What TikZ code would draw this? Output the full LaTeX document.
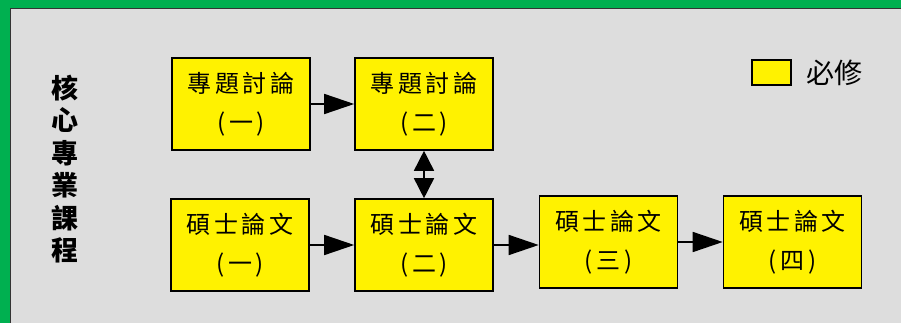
\documentclass[tikz,border=0pt]{standalone}
\usepackage{fontspec}
\newfontfamily\cjk{Noto Sans CJK TC}
\newfontfamily\cjkwide{Noto Sans CJK TC}[LetterSpace=15]
\usetikzlibrary{arrows.meta}
\begin{document}
\begin{tikzpicture}[x=1pt,y=-1pt,
	course/.style={draw,fill=yellow,line width=1.6pt,minimum width=138pt,minimum height=92pt,align=center,font=\cjkwide\fontsize{24}{39}\selectfont},
	arr/.style={line width=1.6pt,-{Triangle[length=30pt,width=20pt]}},
	darr/.style={line width=1.6pt,{Triangle[length=20pt,width=20pt]}-{Triangle[length=20pt,width=20pt]}}]
	\useasboundingbox (0,0) rectangle (901,323);
	% frame
	\fill[fill={rgb,255:red,0;green,176;blue,80}] (0,0) rectangle (901,323);
	\filldraw[fill={rgb,255:red,221;green,221;blue,221},draw=black!80,line width=.8pt] (10,8) rectangle (905,330);
	% side title
	\node[align=center,font=\cjk\bfseries\fontsize{27}{32.5}\selectfont] (title) at (65,169) {核\\心\\專\\業\\課\\程};
	% courses
	\node[course] (t1) at (241,104) {專題討論\\(一)};
	\node[course] (t2) at (424,104) {專題討論\\(二)};
	\node[course] (m1) at (240,245) {碩士論文\\(一)};
	\node[course] (m2) at (424,245) {碩士論文\\(二)};
	\node[course] (m3) at (608.5,242) {碩士論文\\(三)};
	\node[course] (m4) at (792.5,242) {碩士論文\\(四)};
	\draw[arr] (t1) -- (t2);
	\draw[arr] (m1) -- (m2);
	\draw[arr] (m2.east) -- (m2.east -| m3.west);
	\draw[arr] (m3) -- (m4);
	\draw[darr] (t2) -- (m2);
	% legend
	\node[draw,fill=yellow,line width=1.6pt,minimum width=39pt,minimum height=25pt] (key) at (771.5,72.5) {};
	\node[anchor=west,font=\cjk\fontsize{28}{30}\selectfont] (keytext) at (803,73) {必修};
\end{tikzpicture}
\end{document}
